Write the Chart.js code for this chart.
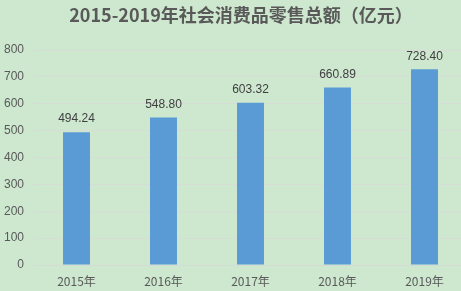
<!DOCTYPE html>
<html>
<head>
<meta charset="utf-8">
<script src="https://cdn.jsdelivr.net/npm/chart.js@4/dist/chart.umd.min.js"></script>
<style>
  html, body { margin: 0; padding: 0; overflow: hidden; background: #cde8cf; }
  #wrap { width: 470px; height: 291px; }
</style>
</head>
<body>
<div id="wrap"><canvas id="retailChart" width="470" height="291"></canvas></div>
<script>
// Chart data
const years = ['2015年', '2016年', '2017年', '2018年', '2019年'];
const retailTotals = [494.24, 548.80, 603.32, 660.89, 728.40];
const yTicks = [0, 100, 200, 300, 400, 500, 600, 700, 800];
const chartTitle = '2015-2019年社会消费品零售总额（亿元）';

const cjkFont = '"Noto Sans CJK SC", "Liberation Sans", sans-serif';

// Title drawn by hand so it can sit centred on the visible window
const titlePlugin = {
    id: 'titleText',
    afterDraw(chart) {
        const ctx = chart.ctx;
        ctx.save();
        ctx.font = 'bold 18px ' + cjkFont;
        ctx.fillStyle = '#595959';
        ctx.textAlign = 'center';
        ctx.textBaseline = 'middle';
        ctx.fillText(chartTitle, 241, 15);
        ctx.restore();
    }
};

// Value labels above each bar
const valueLabels = {
    id: 'valueLabels',
    afterDatasetsDraw(chart) {
        const ctx = chart.ctx;
        const meta = chart.getDatasetMeta(0);
        ctx.save();
        ctx.font = '12px "Liberation Sans", sans-serif';
        ctx.fillStyle = '#404040';
        ctx.textAlign = 'center';
        ctx.textBaseline = 'middle';
        meta.data.forEach((bar, i) => {
            ctx.fillText(retailTotals[i].toFixed(2), bar.x, bar.y - 13);
        });
        ctx.restore();
    }
};

new Chart(document.getElementById('retailChart'), {
    type: 'bar',
    data: {
        labels: years,
        datasets: [{
            data: retailTotals,
            backgroundColor: '#5b9bd5',
            barPercentage: 0.62,
            categoryPercentage: 0.5
        }]
    },
    options: {
        responsive: false,
        animation: false,
        layout: { padding: { top: 50, right: 2, left: 0, bottom: 0 } },
        plugins: {
            legend: { display: false },
            title: { display: false },
            tooltip: { enabled: false }
        },
        scales: {
            x: {
                grid: { display: false },
                border: { display: true, color: '#d4dbd4', width: 1 },
                ticks: {
                    color: '#595959',
                    font: { size: 12, family: cjkFont },
                    padding: 1
                },
                afterFit(scale) { scale.height = 26; }
            },
            y: {
                min: 0,
                max: 800,
                afterBuildTicks(scale) {
                    scale.ticks = yTicks.map(v => ({ value: v }));
                },
                grid: { color: '#d6dcd6', lineWidth: 1, drawTicks: false },
                border: { display: false },
                ticks: {
                    color: '#595959',
                    font: { size: 12, family: '"Liberation Sans", sans-serif' },
                    padding: 9
                },
                afterFit(scale) { scale.width = 33; }
            }
        }
    },
    plugins: [titlePlugin, valueLabels]
});
</script>
</body>
</html>
